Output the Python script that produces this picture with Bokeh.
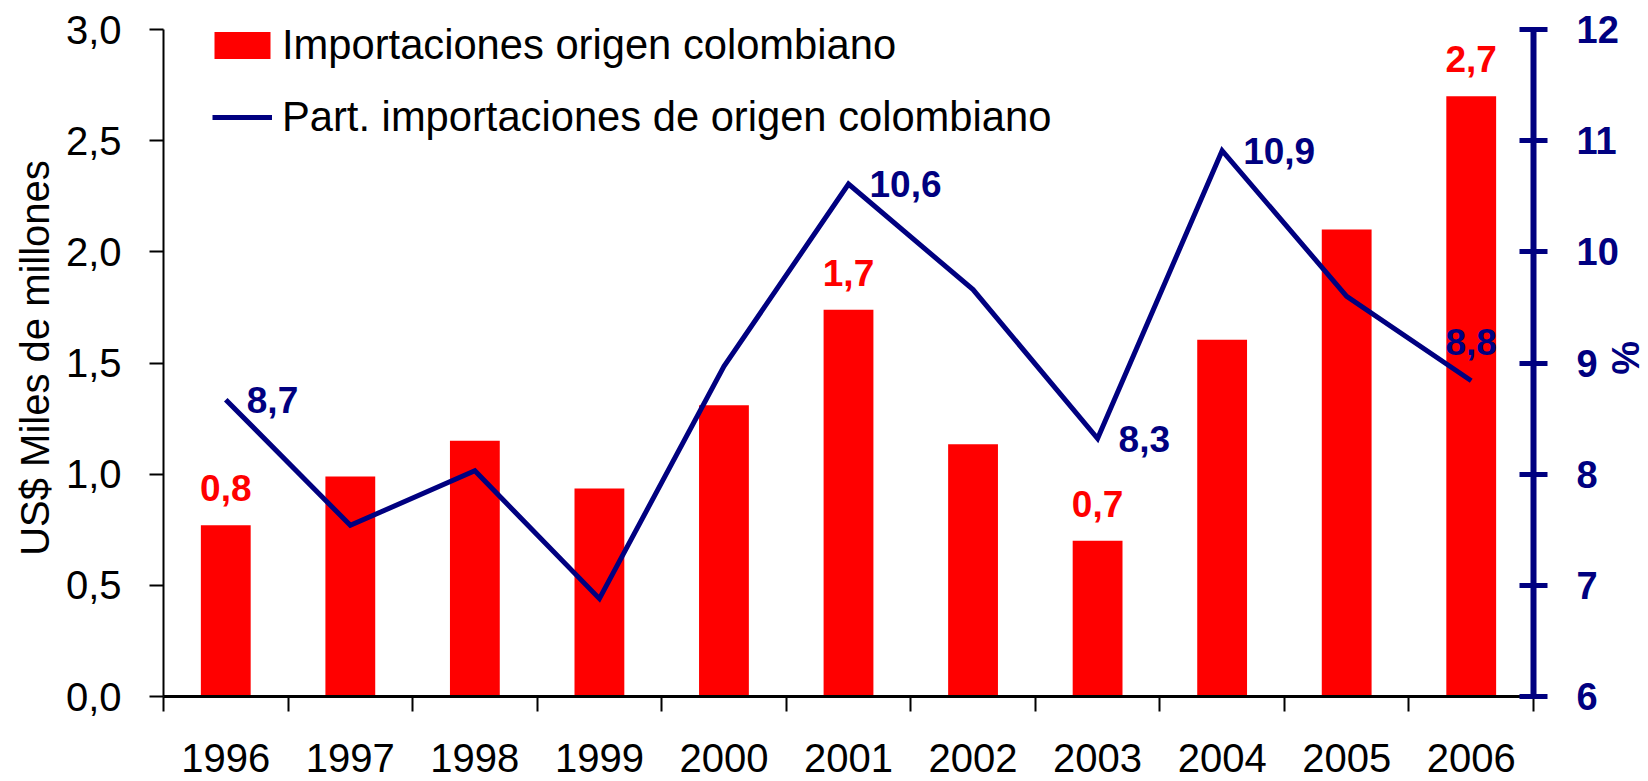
import numpy as np
from bokeh.plotting import figure
from bokeh.models import (Range1d, LinearAxis, FixedTicker, CustomJSTickFormatter,
                          Legend, LegendItem, ColumnDataSource)
from bokeh.core.properties import value
from bokeh.embed import file_html
from bokeh.resources import INLINE

# ---------------- data ----------------
years = ["1996", "1997", "1998", "1999", "2000", "2001", "2002", "2003", "2004", "2005", "2006"]
imports_bn = [0.77, 0.99, 1.15, 0.935, 1.31, 1.74, 1.135, 0.70, 1.605, 2.10, 2.70]
share_pct = [8.67, 7.54, 8.03, 6.88, 8.97, 10.61, 9.66, 8.32, 10.91, 9.60, 8.84]
bar_label_years = ["1996", "2001", "2003", "2006"]
line_label_right_years = ["1996", "2001", "2003", "2004"]
line_label_above_years = ["2006"]
left_ticks = [0.0, 0.5, 1.0, 1.5, 2.0, 2.5, 3.0]
right_ticks = [6, 7, 8, 9, 10, 11, 12]
bar_legend = "Importaciones origen colombiano"
line_legend = "Part. importaciones de origen colombiano"
left_title = "US$ Miles de millones"
right_title = "%"

RED = "#FF0000"
NAVY = "#000080"
FONT = "Liberation Sans"

def fmt(v):
    return f"{v:.1f}".replace(".", ",")

xpos = [i + 0.5 for i in range(len(years))]
src = ColumnDataSource(dict(x=xpos, imp=imports_bn, pct=share_pct))

def subset(sel, vals):
    idx = [years.index(y) for y in sel]
    return ColumnDataSource(dict(x=[xpos[i] for i in idx],
                                 y=[vals[i] for i in idx],
                                 t=[fmt(vals[i]) for i in idx]))

# small headroom above the top tick so the legend text is not clipped by the frame
head = 0.015
lo, hi = left_ticks[0], left_ticks[-1]
rlo, rhi = right_ticks[0], right_ticks[-1]

p = figure(width=1648, height=781, x_range=Range1d(0, len(years)),
           y_range=Range1d(lo, hi + (hi - lo) * head),
           output_backend="svg", toolbar_location=None,
           min_border_left=163, min_border_right=115, min_border_top=19, min_border_bottom=85)
p.extra_y_ranges = {"pct": Range1d(rlo, rhi + (rhi - rlo) * head)}
p.outline_line_color = None
p.xgrid.visible = False
p.ygrid.visible = False
p.background_fill_color = "white"

bars = p.vbar(x="x", top="imp", width=0.4, source=src, fill_color=RED, line_color=None)
ln = p.line(x="x", y="pct", source=src, y_range_name="pct", line_color=NAVY, line_width=5,
            line_join="miter")

lbl = dict(text_font=value(FONT), text_font_style="bold", text_font_size="37px")
# bar value labels
p.text(x="x", y="y", text="t", source=subset(bar_label_years, imports_bn),
       text_color=RED, text_align="center", text_baseline="alphabetic", y_offset=-37, **lbl)
# line value labels
p.text(x="x", y="y", text="t", source=subset(line_label_right_years, share_pct), y_range_name="pct",
       text_color=NAVY, text_align="left", text_baseline="middle", x_offset=21, y_offset=0, **lbl)
p.text(x="x", y="y", text="t", source=subset(line_label_above_years, share_pct), y_range_name="pct",
       text_color=NAVY, text_align="center", text_baseline="alphabetic", y_offset=-39, **lbl)

# x axis
xa = p.xaxis[0]
xa.ticker = FixedTicker(ticks=xpos, minor_ticks=list(range(len(years) + 1)))
xa.major_label_overrides = {x: y for x, y in zip(xpos, years)}
xa.major_tick_out = 0
xa.major_tick_in = 0
xa.minor_tick_out = 15
xa.minor_tick_in = 0
xa.minor_tick_line_color = "black"
xa.minor_tick_line_width = 2
xa.axis_line_color = "black"
xa.axis_line_width = 3
xa.major_label_text_font = FONT
xa.major_label_text_font_size = "40px"
xa.major_label_text_color = "black"
xa.major_label_standoff = 32

# left axis
ya = p.yaxis[0]
ya.bounds = (lo, hi)
ya.ticker = FixedTicker(ticks=left_ticks)
ya.formatter = CustomJSTickFormatter(code="return tick.toFixed(1).replace('.', ',');")
ya.major_tick_out = 14
ya.major_tick_in = 0
ya.major_tick_line_width = 2
ya.minor_tick_line_color = None
ya.axis_line_width = 2
ya.major_label_text_font = FONT
ya.major_label_text_font_size = "40px"
ya.major_label_text_color = "black"
ya.major_label_standoff = 28
ya.axis_label = left_title
ya.axis_label_text_font = FONT
ya.axis_label_text_font_size = "40px"
ya.axis_label_text_font_style = "normal"
ya.axis_label_text_color = "black"
ya.axis_label_standoff = 6

# right axis
ra = LinearAxis(y_range_name="pct", ticker=FixedTicker(ticks=right_ticks), bounds=(rlo, rhi))
ra.axis_line_color = NAVY
ra.axis_line_width = 6
ra.major_tick_line_color = NAVY
ra.major_tick_line_width = 5
ra.major_tick_in = 14
ra.major_tick_out = 14
ra.minor_tick_line_color = None
ra.major_label_text_font = FONT
ra.major_label_text_font_size = "38px"
ra.major_label_text_font_style = "bold"
ra.major_label_text_color = NAVY
ra.major_label_standoff = 29
ra.axis_label = right_title
ra.axis_label_text_font = FONT
ra.axis_label_text_font_size = "38px"
ra.axis_label_text_font_style = "bold"
ra.axis_label_text_color = NAVY
ra.axis_label_standoff = -18
p.add_layout(ra, "right")

# legends
common = dict(padding=0, margin=0, border_line_color=None, background_fill_alpha=0,
              label_text_font=FONT, label_text_font_size="41.7px", label_text_color="black")
leg1 = Legend(items=[LegendItem(label=bar_legend, renderers=[bars])], location=(44, 627),
              glyph_width=70, glyph_height=34, label_standoff=5, **common)
leg2 = Legend(items=[LegendItem(label=line_legend, renderers=[ln])], location=(49, 555),
              glyph_width=60, glyph_height=34, label_standoff=10, **common)
p.add_layout(leg1)
p.add_layout(leg2)

open("out.html", "w").write(file_html(p, INLINE))
